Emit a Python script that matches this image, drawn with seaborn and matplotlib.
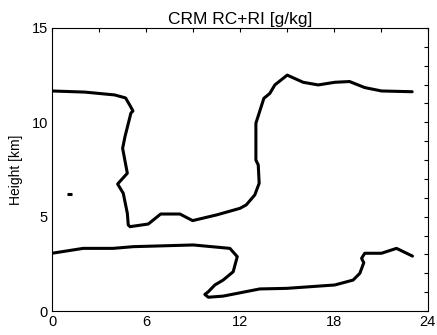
import matplotlib
matplotlib.use("Agg")
import matplotlib.pyplot as plt
import seaborn as sns
import pandas as pd
from matplotlib.ticker import MultipleLocator

# Contour traces (time in hours, height in km)
upper_x = [0.0, 2.1, 4.0, 4.7, 5.0, 5.17, 5.04, 4.66, 4.51, 4.81, 4.19, 4.55, 4.81, 4.87, 4.98,
           6.15, 6.94, 8.17, 8.7, 8.98, 10.5, 12.0, 12.4, 12.95, 13.23, 13.17, 13.02, 13.02,
           13.53, 13.91, 14.23, 15.02, 16.04, 17.0, 18.06, 19.0, 19.97, 21.04, 23.0]
upper_y = [11.66, 11.6, 11.45, 11.29, 10.86, 10.6, 10.49, 9.24, 8.62, 7.3, 6.73, 6.24, 5.18, 4.56, 4.47,
           4.61, 5.14, 5.14, 4.91, 4.79, 5.09, 5.44, 5.62, 6.15, 6.77, 7.74, 8.0, 9.95,
           11.27, 11.53, 11.98, 12.5, 12.12, 11.98, 12.12, 12.16, 11.84, 11.66, 11.62]

lower_x = [0.0, 1.99, 3.91, 5.19, 9.02, 11.36, 11.83, 11.57, 10.93, 10.4, 9.98, 9.76, 9.98, 10.93,
           13.27, 14.98, 18.06, 19.23, 19.66, 19.91, 19.77, 19.97, 21.04, 22.0, 23.02]
lower_y = [3.06, 3.32, 3.32, 3.41, 3.5, 3.32, 2.88, 2.08, 1.64, 1.38, 1.02, 0.88, 0.73, 0.79,
           1.17, 1.2, 1.38, 1.64, 2.0, 2.56, 2.79, 3.06, 3.06, 3.32, 2.91]

blob_x = [0.97, 1.25]
blob_y = [6.18, 6.18]

title = "CRM RC+RI [g/kg]"
ylabel = "Height [km]"
xticks = [0, 6, 12, 18, 24]
yticks = [0, 5, 10, 15]

sns.set_style("white")
plt.rcParams["font.family"] = ["Liberation Sans", "DejaVu Sans"]
plt.rcParams["text.color"] = "black"
plt.rcParams["axes.labelcolor"] = "black"
plt.rcParams["xtick.color"] = "black"
plt.rcParams["ytick.color"] = "black"

fig = plt.figure(figsize=(4.37, 3.35), dpi=100)
ax = fig.add_axes([0.119, 0.0716, 0.86, 0.845])

for xs, ys, cap in [(upper_x, upper_y, "round"), (lower_x, lower_y, "round"), (blob_x, blob_y, "butt")]:
    df = pd.DataFrame({"x": xs, "y": ys})
    sns.lineplot(data=df, x="x", y="y", sort=False, estimator=None, color="black",
                 linewidth=2.2, solid_capstyle=cap, solid_joinstyle="round", ax=ax)

ax.set_xlim(0, 24)
ax.set_ylim(0, 15)
ax.set_xticks(xticks)
ax.set_yticks(yticks)
ax.xaxis.set_minor_locator(MultipleLocator(3))
ax.yaxis.set_minor_locator(MultipleLocator(1))
ax.tick_params(which="both", direction="in", top=True, right=True, length=3,
               width=0.8, color="black", labelsize=10.5, pad=3)
ax.set_xlabel("")
ax.set_ylabel(ylabel, fontsize=10, labelpad=6)
ax.set_title(title, fontsize=12.5, pad=3)
for s in ax.spines.values():
    s.set_color("black")
    s.set_linewidth(0.8)
    s.set_visible(True)

fig.savefig("out.png", dpi=100)
